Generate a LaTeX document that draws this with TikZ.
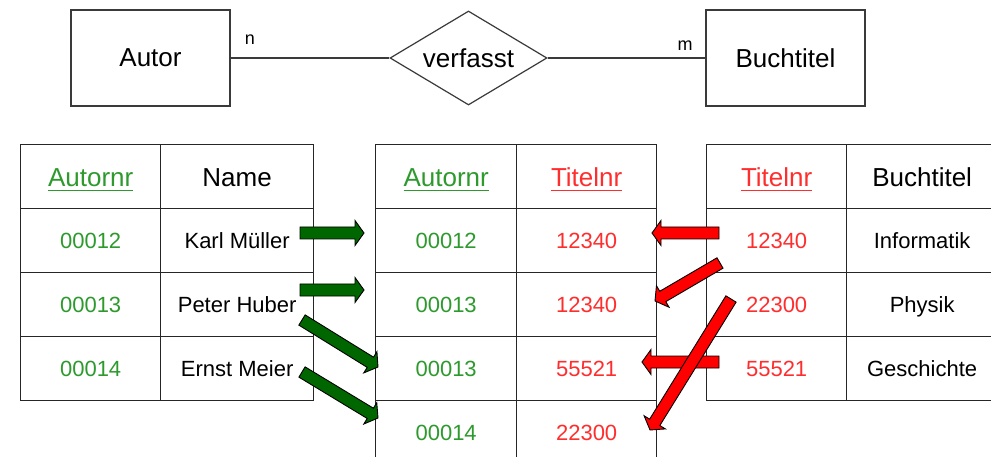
\documentclass[tikz,border=0pt]{standalone}
\usepackage{fontspec}
\setmainfont{Liberation Sans}
\usetikzlibrary{calc,shapes.geometric}

\definecolor{keygreen}{HTML}{2E9A2E}
\definecolor{keyred}{HTML}{FF2E2E}
\definecolor{arrowgreen}{HTML}{006600}
\definecolor{arrowred}{HTML}{FF0000}
\definecolor{linegrey}{HTML}{3A3A3A}

% underlined key attribute, rule in the current colour
\newcommand\keyul[1]{\setbox0\hbox{#1}\rlap{\copy0}\raisebox{-5pt}{\rule{\wd0}{1.6pt}}}

% block arrow from #1 to #2 filled with #3
\newcommand\blockarrow[3]{%
  \coordinate (bh) at ($(#2)!9pt!(#1)$);
  \draw[blockline, fill=#3]
    ($(#1)!6pt!90:(#2)$) -- ($(bh)!6pt!90:(#2)$) -- ($(bh)!12.5pt!90:(#2)$) -- (#2)
    -- ($(bh)!12.5pt!-90:(#2)$) -- ($(bh)!6pt!-90:(#2)$) -- ($(#1)!6pt!-90:(#2)$) -- cycle;}

\tikzset{
  entity/.style={draw=linegrey, line width=1.2pt, minimum width=159pt, minimum height=96pt,
    font=\fontsize{26}{30}\selectfont, inner sep=0pt},
  relation/.style={draw=linegrey, line width=1.2pt, diamond, aspect=1.67, inner sep=3pt,
    minimum width=157pt, minimum height=94pt, font=\fontsize{26}{30}\selectfont},
  conn/.style={draw=linegrey, line width=1.2pt},
  card/.style={font=\fontsize{18}{20}\selectfont, inner sep=0pt},
  cell/.style={draw=black!85, line width=1.3pt, anchor=north west, minimum height=64pt, inner sep=0pt},
  head/.style={cell, font=\fontsize{26}{30}\selectfont, text height=19pt, text depth=0pt},
  data/.style={cell, font=\fontsize{22}{26}\selectfont, text height=16pt, text depth=0pt},
  blockline/.style={draw=black, line width=0.9pt, line join=miter},
}

\begin{document}
\begin{tikzpicture}[x=1pt, y=-1pt]
\useasboundingbox (0,0) rectangle (991,457);
\fill[white] (0,0) rectangle (991,457);

% ---- ER diagram ----
\node[entity] (autor) at (150.5,58) {Autor};
\node[relation] (verfasst) at (468.5,58) {verfasst};
\node[entity] (buch) at (785.5,58) {Buchtitel};
\draw[conn] (autor.east) -- (verfasst.west);
\draw[conn] (verfasst.east) -- (buch.west);
\node[card] (n) at (250,40) {n};
\node[card] (m) at (685,46) {m};

% ---- table Autor ----
\node[head, minimum width=140pt, text=keygreen] (la0) at (20,144) {\keyul{Autornr}};
\node[head, minimum width=153pt] (lb0) at (160,144) {Name};
\foreach \r/\a/\b in {1/00012/Karl Müller, 2/00013/Peter Huber, 3/00014/Ernst Meier}{
  \node[data, minimum width=140pt, text=keygreen] (la\r) at (20,{144+64*\r}) {\a};
  \node[data, minimum width=153pt] (lb\r) at (160,{144+64*\r}) {\b};
}

% ---- table verfasst ----
\node[head, minimum width=141pt, text=keygreen] (ma0) at (375,144) {\keyul{Autornr}};
\node[head, minimum width=140pt, text=keyred] (mb0) at (516,144) {\keyul{Titelnr}};
\foreach \r/\a/\b in {1/00012/12340, 2/00013/12340, 3/00013/55521, 4/00014/22300}{
  \node[data, minimum width=141pt, text=keygreen] (ma\r) at (375,{144+64*\r}) {\a};
  \node[data, minimum width=140pt, text=keyred] (mb\r) at (516,{144+64*\r}) {\b};
}

% ---- table Buchtitel ----
\node[head, minimum width=140pt, text=keyred] (ra0) at (706,144) {\keyul{Titelnr}};
\node[head, minimum width=160pt, text=black] (rb0) at (846,144) {\hspace*{-9pt}Buchtitel};
\foreach \r/\a/\b in {1/12340/Informatik, 2/22300/Physik, 3/55521/Geschichte}{
  \node[data, minimum width=140pt, text=keyred] (ra\r) at (706,{144+64*\r}) {\a};
  \node[data, minimum width=160pt] (rb\r) at (846,{144+64*\r}) {\hspace*{-9pt}\b};
}

% ---- arrow ends ----
\coordinate (g1s) at (300,233);  \coordinate (g1e) at (364,233);
\coordinate (g2s) at (300,290);  \coordinate (g2e) at (364,290);
\coordinate (g3s) at (302,320);  \coordinate (g3e) at (378,367);
\coordinate (g4s) at (302,372);  \coordinate (g4e) at (378,418);
\coordinate (r1s) at (719,233);  \coordinate (r1e) at (652,233);
\coordinate (r2s) at (720,263);  \coordinate (r2e) at (655,301);
\coordinate (r3s) at (719,362);  \coordinate (r3e) at (642,362);
\coordinate (r4s) at (731,299);  \coordinate (r4e) at (650,430);

\blockarrow{g1s}{g1e}{arrowgreen}
\blockarrow{g2s}{g2e}{arrowgreen}
\blockarrow{g3s}{g3e}{arrowgreen}
\blockarrow{g4s}{g4e}{arrowgreen}
\blockarrow{r1s}{r1e}{arrowred}
\blockarrow{r2s}{r2e}{arrowred}
\blockarrow{r3s}{r3e}{arrowred}
\blockarrow{r4s}{r4e}{arrowred}
\end{tikzpicture}
\end{document}
